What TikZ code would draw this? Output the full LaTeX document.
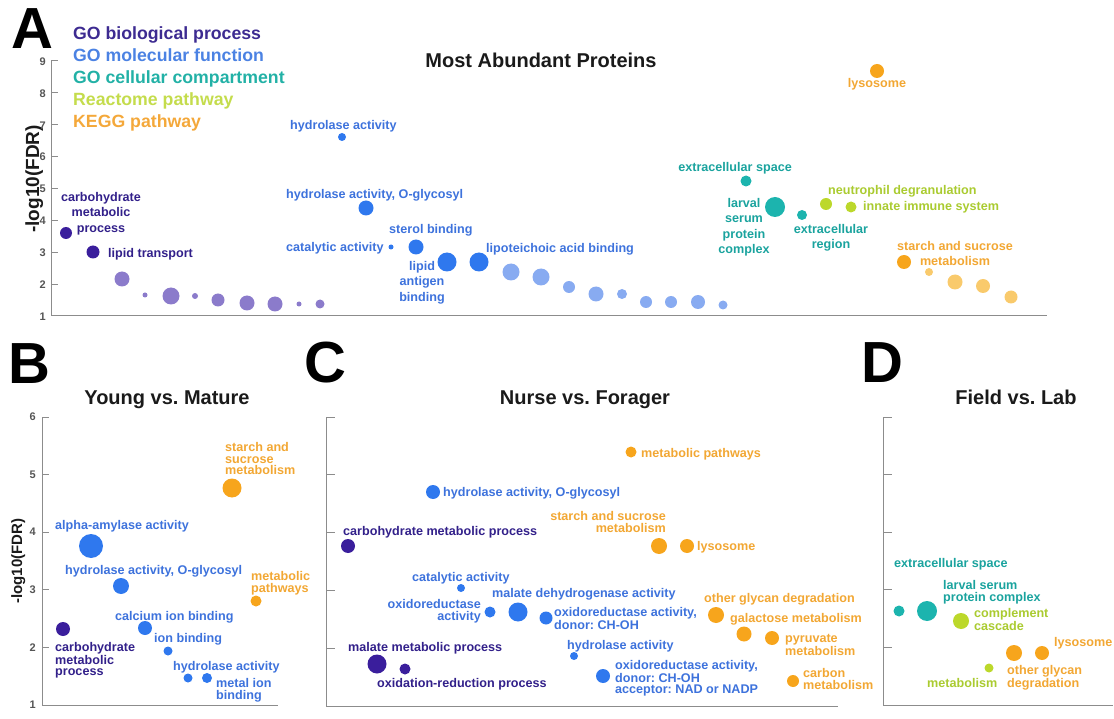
\documentclass[tikz,border=0pt]{standalone}
\usepackage{fontspec}
\setmainfont{Liberation Sans}
\frenchspacing
\definecolor{bpD}{HTML}{3A1E9C}
\definecolor{bpL}{HTML}{8B7BCB}
\definecolor{mfD}{HTML}{2F78EE}
\definecolor{mfL}{HTML}{88ABF1}
\definecolor{ccD}{HTML}{1CB4AE}
\definecolor{rpD}{HTML}{BCD82B}
\definecolor{kgD}{HTML}{F7A51C}
\definecolor{kgL}{HTML}{F9CA6C}
\definecolor{tbp}{HTML}{32208A}
\definecolor{tmf}{HTML}{3D72DC}
\definecolor{tcc}{HTML}{1AA39E}
\definecolor{trp}{HTML}{AACB30}
\definecolor{tkg}{HTML}{F2A733}
\definecolor{lgbp}{HTML}{3D2B91}
\definecolor{lgmf}{HTML}{4B82E3}
\definecolor{lgcc}{HTML}{22B1A6}
\definecolor{lgrp}{HTML}{C4DC4C}
\definecolor{lgkg}{HTML}{F4A83A}
\definecolor{axgray}{HTML}{8C8C8C}
\definecolor{ticklab}{HTML}{555555}
\definecolor{titlecol}{HTML}{1A1A1A}
\newcommand\Bub[5]{\node[bub=#4, minimum size=#3*2pt] (#5) at (#1,#2) {};}
\begin{document}
\begin{tikzpicture}[x=1pt,y=-1pt,
  lab/.style={font=\bfseries\fontsize{12.6}{11.5}\selectfont, inner sep=0pt},
  labA/.style={font=\bfseries\fontsize{12.6}{15.3}\selectfont, inner sep=0pt},
  bub/.style={circle, fill=#1, draw=none, inner sep=0pt},
  axisline/.style={draw=axgray, line width=1pt},
  ticklabel/.style={font=\bfseries\fontsize{11}{11}\selectfont, text=ticklab, inner sep=0pt, anchor=east},
  paneltitle/.style={font=\bfseries\fontsize{20}{20}\selectfont, text=titlecol, inner sep=0pt, anchor=base},
  letter/.style={font=\bfseries\fontsize{58}{58}\selectfont, inner sep=0pt, anchor=base west},
  legend/.style={font=\bfseries\fontsize{17.7}{17.7}\selectfont, inner sep=0pt, anchor=base west},
  ylab/.style={inner sep=0pt, anchor=base, rotate=90, text=titlecol},
]
\useasboundingbox (0,0) rectangle (1114,719);

% ---------------- letters and titles
\node[letter] (LA) at (11,49) {A};
\node[letter] (LB) at (8,383) {B};
\node[letter] (LC) at (304,382) {C};
\node[letter] (LD) at (861,382) {D};
\node[paneltitle] (tA) at (541,68) {Most Abundant Proteins};
\node[paneltitle] (tB) at (167,404) {Young vs. Mature};
\node[paneltitle] (tC) at (585,404) {Nurse vs. Forager};
\node[paneltitle] (tD) at (1016,404) {Field vs. Lab};

% ---------------- legend
\node[legend,text=lgbp] (g1) at (73,39.5) {GO biological process};
\node[legend,text=lgmf] (g2) at (73,61.5) {GO molecular function};
\node[legend,text=lgcc] (g3) at (73,84) {GO cellular compartment};
\node[legend,text=lgrp] (g4) at (73,106) {Reactome pathway};
\node[legend,text=lgkg] (g5) at (73,128) {KEGG pathway};

% ---------------- axes
\node[ylab, font=\bfseries\fontsize{19}{19}\selectfont] (yA) at (39,179) {-log10(FDR)};
\node[ylab, font=\bfseries\fontsize{15}{15}\selectfont] (yB) at (22,561) {-log10(FDR)};

\draw[axisline] (51,61) -- (51,316) -- (1047,316);
\foreach \k in {1,...,9}{
  \pgfmathsetmacro\yy{316-(\k-1)*31.875}
  \draw[axisline] (51,\yy) -- (58,\yy);
  \node[ticklabel] (tkA\k) at (46,\yy+0.5) {\k};
}
\draw[axisline] (42,417) -- (42,705) -- (278,705);
\foreach \k in {1,...,6}{
  \pgfmathsetmacro\yy{705-(\k-1)*57.6}
  \draw[axisline] (42,\yy) -- (49,\yy);
  \node[ticklabel] (tkB\k) at (36,\yy) {\k};
}
\draw[axisline] (326,417) -- (326,706) -- (838,706);
\foreach \k in {1,...,6}{
  \pgfmathsetmacro\yy{706-(\k-1)*57.8}
  \draw[axisline] (326,\yy) -- (335,\yy);
}
\draw[axisline] (883,417) -- (883,705) -- (1113,705);
\foreach \k in {1,...,6}{
  \pgfmathsetmacro\yy{705-(\k-1)*57.6}
  \draw[axisline] (883,\yy) -- (892,\yy);
}

% ---------------- panel A bubbles
\Bub{66}{233}{6}{bpD}{a1}
\Bub{93}{252}{6.5}{bpD}{a2}
\Bub{122}{279}{7.5}{bpL}{a3}
\Bub{145}{295}{2.5}{bpL}{a4}
\Bub{171}{296}{8.5}{bpL}{a5}
\Bub{195}{296}{3}{bpL}{a6}
\Bub{218}{300}{6.5}{bpL}{a7}
\Bub{247}{303}{7.5}{bpL}{a8}
\Bub{275}{304}{7.5}{bpL}{a9}
\Bub{299}{304}{2.5}{bpL}{a10}
\Bub{320}{304}{4.5}{bpL}{a11}
\Bub{342}{137}{4}{mfD}{a12}
\Bub{366}{208}{7.5}{mfD}{a13}
\Bub{391}{247}{2.5}{mfD}{a14}
\Bub{416}{247}{7.5}{mfD}{a15}
\Bub{447}{262}{9.5}{mfD}{a16}
\Bub{479}{262}{9.5}{mfD}{a17}
\Bub{511}{272}{8.5}{mfL}{a18}
\Bub{541}{277}{8.5}{mfL}{a19}
\Bub{569}{287}{6}{mfL}{a20}
\Bub{596}{294}{7.5}{mfL}{a21}
\Bub{622}{294}{5}{mfL}{a22}
\Bub{646}{302}{6}{mfL}{a23}
\Bub{671}{302}{6}{mfL}{a24}
\Bub{698}{302}{7}{mfL}{a25}
\Bub{723}{305}{4.5}{mfL}{a26}
\Bub{746}{181}{5.5}{ccD}{a27}
\Bub{775}{207}{10}{ccD}{a28}
\Bub{802}{215}{5}{ccD}{a29}
\Bub{826}{204}{6}{rpD}{a30}
\Bub{851}{207}{5.5}{rpD}{a31}
\Bub{877}{71}{7}{kgD}{a32}
\Bub{904}{262}{7}{kgD}{a33}
\Bub{929}{272}{4}{kgL}{a34}
\Bub{955}{282}{7.5}{kgL}{a35}
\Bub{983}{286}{7}{kgL}{a36}
\Bub{1011}{297}{6.5}{kgL}{a37}

% ---------------- panel A labels
\node[labA,text=tbp,align=center,anchor=north] (la1) at (101,192.3) {carbohydrate\\metabolic\\process};
\node[labA,text=tbp,anchor=base west] (la2) at (108,257.5) {lipid transport};
\node[labA,text=tmf,anchor=base west] (la12) at (290,129.5) {hydrolase activity};
\node[labA,text=tmf,anchor=base west] (la13) at (286,198.5) {hydrolase activity, O-glycosyl};
\node[labA,text=tmf,anchor=base west] (la14) at (286,251.5) {catalytic activity};
\node[labA,text=tmf,anchor=base west] (la15) at (389,233.5) {sterol binding};
\node[labA,text=tmf,align=center,anchor=north] (la16) at (422,261.3) {lipid\\antigen\\binding};
\node[labA,text=tmf,anchor=base west] (la17) at (486,252.5) {lipoteichoic acid binding};
\node[labA,text=tcc,anchor=base east] (la27) at (792,171.5) {extracellular space};
\node[labA,text=tcc,align=center,anchor=north] (la28) at (744,198.3) {larval\\serum\\protein\\complex};
\node[labA,text=tcc,align=center,anchor=north] (la29) at (831,224.3) {extracellular\\region};
\node[labA,text=trp,anchor=base west] (la30) at (828,194.5) {neutrophil degranulation};
\node[labA,text=trp,anchor=base west] (la31) at (863,210.5) {innate immune system};
\node[labA,text=tkg,anchor=base] (la32) at (877,87.5) {lysosome};
\node[labA,text=tkg,align=center,anchor=north] (la33) at (955,241.3) {starch and sucrose\\metabolism};

% ---------------- panel B
\Bub{63}{629}{7}{bpD}{b1}
\Bub{91}{546}{12}{mfD}{b2}
\Bub{121}{586}{8}{mfD}{b3}
\Bub{145}{628}{7}{mfD}{b4}
\Bub{168}{651}{4.5}{mfD}{b5}
\Bub{188}{678}{4.5}{mfD}{b6}
\Bub{207}{678}{5}{mfD}{b7}
\Bub{232}{488}{9.5}{kgD}{b8}
\Bub{256}{601}{5.5}{kgD}{b9}

\node[lab,text=tbp,align=left,anchor=north west] (lb1) at (55,642.3) {carbohydrate\\metabolic\\process};
\node[lab,text=tmf,anchor=base west] (lb2) at (55,529.5) {alpha-amylase activity};
\node[lab,text=tmf,anchor=base west] (lb3) at (65,574.5) {hydrolase activity, O-glycosyl};
\node[lab,text=tmf,anchor=base west] (lb4) at (115,620.5) {calcium ion binding};
\node[lab,text=tmf,anchor=base west] (lb5) at (154,642.5) {ion binding};
\node[lab,text=tmf,anchor=base west] (lb6) at (173,670.5) {hydrolase activity};
\node[lab,text=tmf,align=left,anchor=north west] (lb7) at (216,678.3) {metal ion\\binding};
\node[lab,text=tkg,align=left,anchor=north west] (lb8) at (225,442.3) {starch and\\sucrose\\metabolism};
\node[lab,text=tkg,align=left,anchor=north west] (lb9) at (251,571.3) {metabolic\\pathways};

% ---------------- panel C
\Bub{348}{546}{7}{bpD}{c1}
\Bub{377}{664}{9.5}{bpD}{c2}
\Bub{405}{669}{5.5}{bpD}{c3}
\Bub{433}{492}{7}{mfD}{c4}
\Bub{461}{588}{4}{mfD}{c5}
\Bub{490}{612}{5.5}{mfD}{c6}
\Bub{518}{612}{9.5}{mfD}{c7}
\Bub{546}{618}{6.5}{mfD}{c8}
\Bub{574}{656}{4}{mfD}{c9}
\Bub{603}{676}{7}{mfD}{c10}
\Bub{631}{452}{5.5}{kgD}{c11}
\Bub{659}{546}{8}{kgD}{c12}
\Bub{687}{546}{7}{kgD}{c13}
\Bub{716}{615}{8}{kgD}{c14}
\Bub{744}{634}{7.5}{kgD}{c15}
\Bub{772}{638}{7}{kgD}{c16}
\Bub{793}{681}{6}{kgD}{c17}

\node[lab,text=tbp,anchor=base west] (lc1) at (343,535.5) {carbohydrate metabolic process};
\node[lab,text=tbp,anchor=base west] (lc2) at (348,651.5) {malate metabolic process};
\node[lab,text=tbp,anchor=base west] (lc3) at (377,687.5) {oxidation-reduction process};
\node[lab,text=tmf,anchor=base west] (lc4) at (443,496.5) {hydrolase activity, O-glycosyl};
\node[lab,text=tmf,anchor=base west] (lc5) at (412,581.5) {catalytic activity};
\node[lab,text=tmf,align=right,anchor=north east] (lc6) at (481,599.3) {oxidoreductase\\activity};
\node[lab,text=tmf,anchor=base west] (lc7) at (492,597.5) {malate dehydrogenase activity};
\node[lab,text=tmf,align=left,anchor=north west] (lc8) at (554,607.3) {oxidoreductase activity,\\donor: CH-OH};
\node[lab,text=tmf,anchor=base west] (lc9) at (567,649.5) {hydrolase activity};
\node[lab,text=tmf,align=left,anchor=north west] (lc10) at (615,660.3) {oxidoreductase activity,\\donor: CH-OH\\acceptor: NAD or NADP};
\node[lab,text=tkg,anchor=base west] (lc11) at (641,457.5) {metabolic pathways};
\node[lab,text=tkg,align=right,anchor=north east] (lc12) at (666,511.3) {starch and sucrose\\metabolism};
\node[lab,text=tkg,anchor=base west] (lc13) at (697,550.5) {lysosome};
\node[lab,text=tkg,anchor=base west] (lc14) at (704,602.5) {other glycan degradation};
\node[lab,text=tkg,anchor=base west] (lc15) at (730,622.5) {galactose metabolism};
\node[lab,text=tkg,align=left,anchor=north west] (lc16) at (785,634.3) {pyruvate\\metabolism};
\node[lab,text=tkg,align=left,anchor=north west] (lc17) at (803,668.3) {carbon\\metabolism};

% ---------------- panel D
\Bub{899}{611}{5.5}{ccD}{d1}
\Bub{927}{611}{10}{ccD}{d2}
\Bub{961}{621}{8}{rpD}{d3}
\Bub{989}{668}{4.5}{rpD}{d4}
\Bub{1014}{653}{8}{kgD}{d5}
\Bub{1042}{653}{7}{kgD}{d6}

\node[lab,text=tcc,anchor=base west] (ld1) at (894,567.5) {extracellular space};
\node[lab,text=tcc,align=left,anchor=north west] (ld2) at (943,580.3) {larval serum\\protein complex};
\node[lab,text=trp,align=left,anchor=north west] (ld3) at (974,608.3) {complement\\cascade};
\node[lab,text=trp,anchor=base west] (ld4) at (927,687.5) {metabolism};
\node[lab,text=tkg,align=left,anchor=north west] (ld5) at (1007,665.3) {other glycan\\degradation};
\node[lab,text=tkg,anchor=base west] (ld6) at (1054,646.5) {lysosome};
\end{tikzpicture}
\end{document}
